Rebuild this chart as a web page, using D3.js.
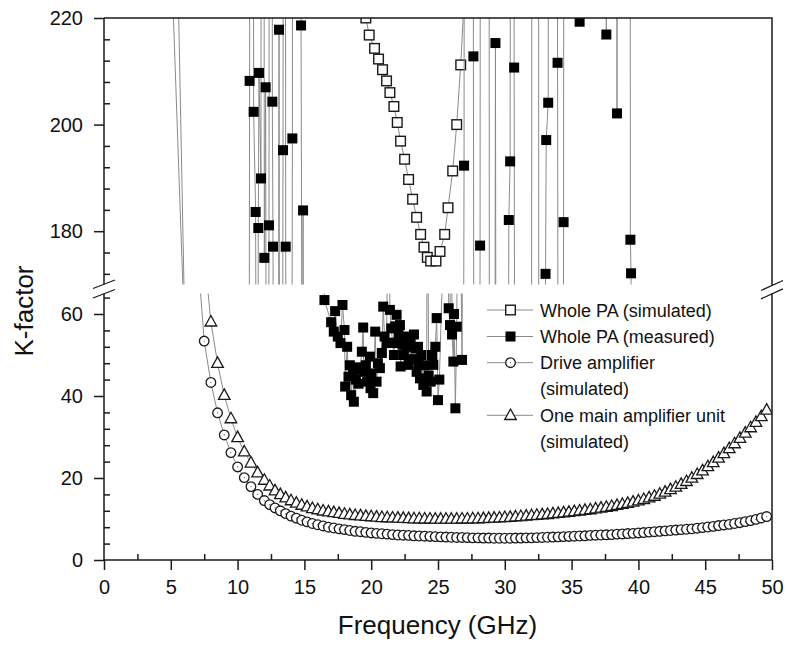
<!DOCTYPE html>
<html lang="en">
<head>
<meta charset="UTF-8">
<title>K-factor</title>
<script src="https://d3js.org/d3.v7.min.js"></script>
<style>
  body { margin: 0; background: #fff; }
  svg text { font-family: "Liberation Sans", Arial, sans-serif; fill: #111; }
</style>
</head>
<body>
<div id="chart"></div>
<script>
const width = 787, height = 645;

// ---- data ----
const freqSim = [7.5, 8.0, 8.5, 9.0, 9.5, 10.0, 10.5, 11.0, 11.5, 12.0,
  12.4, 12.8, 13.2, 13.6, 14.0, 14.4, 14.8, 15.2, 15.6, 16.0,
  16.4, 16.8, 17.2, 17.6, 18.0, 18.4, 18.8, 19.2, 19.6, 20.0,
  20.4, 20.8, 21.2, 21.6, 22.0, 22.4, 22.8, 23.2, 23.6, 24.0,
  24.4, 24.8, 25.2, 25.6, 26.0, 26.4, 26.8, 27.2, 27.6, 28.0,
  28.4, 28.8, 29.2, 29.6, 30.0, 30.4, 30.8, 31.2, 31.6, 32.0,
  32.4, 32.8, 33.2, 33.6, 34.0, 34.4, 34.8, 35.2, 35.6, 36.0,
  36.4, 36.8, 37.2, 37.6, 38.0, 38.4, 38.8, 39.2, 39.6, 40.0,
  40.4, 40.8, 41.2, 41.6, 42.0, 42.4, 42.8, 43.2, 43.6, 44.0,
  44.4, 44.8, 45.2, 45.6, 46.0, 46.4, 46.8, 47.2, 47.6, 48.0,
  48.4, 48.8, 49.2, 49.6];

const kDrive = [53.4, 43.3, 35.9, 30.5, 26.2, 22.7, 20.1, 17.9, 16.0, 14.5,
  13.5, 12.7, 12.0, 11.3, 10.7, 10.2, 9.7, 9.3, 8.9, 8.6,
  8.3, 8.0, 7.8, 7.6, 7.4, 7.2, 7.0, 6.9, 6.75, 6.6,
  6.5, 6.4, 6.3, 6.2, 6.1, 6.05, 6.0, 5.9, 5.85, 5.8,
  5.75, 5.7, 5.65, 5.6, 5.55, 5.5, 5.5, 5.45, 5.4, 5.4,
  5.35, 5.35, 5.3, 5.3, 5.3, 5.3, 5.35, 5.35, 5.4, 5.4,
  5.45, 5.5, 5.55, 5.6, 5.65, 5.7, 5.75, 5.8, 5.85, 5.9,
  6.0, 6.05, 6.1, 6.15, 6.2, 6.3, 6.35, 6.45, 6.5, 6.6,
  6.7, 6.8, 6.9, 7.0, 7.1, 7.2, 7.3, 7.4, 7.5, 7.6,
  7.75, 7.9, 8.05, 8.2, 8.4, 8.55, 8.7, 8.9, 9.1, 9.35,
  9.6, 9.9, 10.25, 10.6];

const kMain = [75, 58.1, 48.0, 40.2, 34.5, 29.9, 26.4, 23.7, 21.3, 19.5,
  18.1, 16.9, 16.0, 15.2, 14.5, 13.9, 13.4, 13.0, 12.6, 12.3,
  12.0, 11.8, 11.6, 11.4, 11.2, 11.05, 10.9, 10.8, 10.7, 10.6,
  10.5, 10.4, 10.35, 10.3, 10.25, 10.2, 10.15, 10.1, 10.1, 10.05,
  10.05, 10.0, 10.0, 10.0, 10.0, 10.0, 10.05, 10.05, 10.1, 10.1,
  10.15, 10.2, 10.25, 10.3, 10.4, 10.45, 10.55, 10.65, 10.75, 10.85,
  10.95, 11.05, 11.15, 11.3, 11.4, 11.55, 11.7, 11.85, 12.0, 12.15,
  12.3, 12.5, 12.7, 12.9, 13.1, 13.35, 13.6, 13.85, 14.15, 14.45,
  14.8, 15.2, 15.6, 16.1, 16.6, 17.2, 17.8, 18.5, 19.2, 20.0,
  20.9, 21.8, 22.8, 23.8, 24.9, 26.0, 27.2, 28.4, 29.7, 31.0,
  32.3, 33.6, 35.0, 36.6];

// steep low-frequency parts, mostly off scale
const freqDriveLead = [5.0, 6.0, 6.5, 7.0];
const kDriveLead = [234, 163, 110, 75];
const freqMainLead = [5.5, 6.0, 6.5, 7.0];
const kMainLead = [232, 168, 130, 100];

const freqWholeSim = [19.2, 19.6, 19.85, 20.25, 20.55, 20.85, 21.15, 21.4, 21.7, 21.95,
  22.2, 22.5, 22.8, 23.1, 23.4, 23.7, 23.95, 24.2, 24.45, 24.85,
  25.15, 25.5, 25.75, 26.1, 26.4, 26.7, 27.05, 27.4];
const kWholeSim = [232, 220, 216.8, 214.3, 212.3, 210.3, 208.2, 206.0, 203.4, 200.4,
  196.9, 193.5, 189.7, 186.0, 182.6, 179.4, 177.0, 175.1, 174.4, 174.4,
  176.2, 179.4, 184.4, 191.3, 200.0, 211.2, 228, 280];

const freqMeas = [10.5, 10.85, 10.9, 10.95, 11.15, 11.2, 11.35, 11.4, 11.5, 11.55,
  11.6, 11.75, 11.8, 11.95, 12.0, 12.1, 12.15, 12.3, 12.35, 12.4,
  12.55, 12.6, 12.65, 12.7, 13.05, 13.1, 13.15, 13.35, 13.4, 13.45,
  13.55, 13.6, 13.65, 14.05, 14.1, 14.15, 14.7, 14.75, 14.85, 14.9,
  14.95, 16.3,
  16.5, 17.0, 17.2, 17.3, 17.5, 17.7, 17.85, 18.0, 18.05, 18.2,
  18.3, 18.4, 18.5, 18.65, 18.7, 18.85, 18.95, 19.05, 19.15, 19.3,
  19.4, 19.45, 19.6, 19.7, 19.9, 19.95, 20.0, 20.15, 20.3, 20.4,
  20.5, 20.65, 20.8, 20.9, 21.0, 21.15, 21.3, 21.4, 21.5, 21.6,
  21.7, 21.8, 21.9, 21.95, 22.05, 22.15, 22.2, 22.35, 22.45, 22.55,
  22.65, 22.8, 22.95, 23.1, 23.2, 23.3, 23.4, 23.5, 23.55, 23.65,
  23.75, 23.9, 24.0, 24.15, 24.2, 24.3, 24.45, 24.55, 24.65, 24.8,
  24.9, 25.0, 25.1, 25.7, 25.8, 25.9, 26.0, 26.05, 26.15, 26.2,
  26.3, 26.4, 26.55, 26.8,
  26.95, 27.0, 27.6, 27.65, 27.7, 28.1,
  28.15, 28.2, 28.8, 28.85, 29.25, 29.3, 29.35, 30.25, 30.3, 30.4,
  30.45, 30.65, 30.7, 30.75, 32.0, 32.05, 32.5, 32.55, 33.0, 33.05,
  33.1, 33.25, 33.3, 33.9, 33.95, 34.0, 34.35, 34.4, 34.45, 35.6,
  35.65, 37.55, 37.6, 37.65, 38.35, 38.4, 38.45, 39.35, 39.4, 39.45,
  39.5, 40.0];
const kMeas = [120, 120, 208.2, 400, 400, 202.4, 183.6, 120, 120, 180.6,
  209.7, 189.9, 400, 400, 175.0, 207.0, 120, 120, 181.1, 400,
  400, 204.3, 177.1, 120, 120, 217.8, 120, 120, 195.2, 400,
  400, 177.1, 120, 120, 197.4, 400, 400, 218.6, 120, 183.9,
  120, 110,
  63.4, 58.0, 55.7, 60.7, 54.5, 52.9, 62.2, 56.1, 42.3, 52.0,
  44.7, 47.5, 40.2, 45.9, 38.6, 44.0, 47.0, 43.0, 46.5, 50.8,
  56.7, 45.9, 47.5, 43.5, 49.6, 41.9, 45.5, 40.7, 55.7, 43.5,
  48.0, 46.8, 50.5, 61.8, 54.5, 52.9, 100, 61.0, 56.5, 53.0,
  50.0, 57.0, 59.8, 52.9, 55.0, 57.3, 47.2, 52.5, 50.0, 54.5,
  52.0, 47.6, 53.5, 49.0, 55.0, 51.6, 45.9, 52.0, 48.0, 44.3,
  50.0, 42.7, 47.5, 41.1, 110, 45.0, 43.5, 50.0, 47.6, 52.0,
  59.0, 39.0, 44.0, 110, 61.4, 57.3, 130, 55.0, 48.4, 60.0,
  37.0, 56.9, 120, 48.8,
  192.3, 400, 400, 212.8, 120, 120,
  177.3, 400, 400, 120, 120, 215.3, 120, 120, 182.1, 193.1,
  400, 400, 210.7, 120, 120, 400, 400, 120, 120, 172.0,
  197.1, 204.1, 400, 400, 211.6, 120, 120, 181.7, 400, 219.3,
  400, 400, 216.9, 400, 400, 202.1, 400, 400, 178.4, 172.1,
  120, 120];

const xMajor = [0, 5, 10, 15, 20, 25, 30, 35, 40, 45, 50];
const xMinor = [2.5, 7.5, 12.5, 17.5, 22.5, 27.5, 32.5, 37.5, 42.5, 47.5];
const yTopMajor = [180, 200, 220];
const yTopMinor = [172, 176, 184, 188, 192, 196, 204, 208, 212, 216];
const yBotMajor = [0, 20, 40, 60];
const yBotMinor = [4, 8, 12, 16, 24, 28, 32, 36, 44, 48, 52, 56, 64];

const legendLabels = ["Whole PA (simulated)", "Whole PA (measured)", "Drive amplifier", "(simulated)", "One main amplifier unit", "(simulated)"];
const legendSymbols = ["openSquare", "filledSquare", "circle", null, "triangle", null];

// ---- layout ----
const x = d3.scaleLinear().domain([0, 50]).range([104, 772]);
const yTop = d3.scaleLinear().domain([170, 220]).range([284.5, 18]);
const yBot = d3.scaleLinear().domain([0, 65]).range([560, 293.5]);
const panels = [
  { id: "clipTop", y: yTop },
  { id: "clipBot", y: yBot }
];

const svg = d3.select("#chart").append("svg")
  .attr("width", width)
  .attr("height", height);

const defs = svg.append("defs");
panels.forEach(p => {
  const r = p.y.range();
  defs.append("clipPath").attr("id", p.id)
    .append("rect")
    .attr("x", 104).attr("y", r[1])
    .attr("width", 668).attr("height", r[0] - r[1]);
});

const lineColor = "#8a8a8a";
const ink = "#1a1a1a";

function drawSymbol(g, kind, cx, cy) {
  if (kind === "openSquare") {
    g.append("rect").attr("x", cx - 4.8).attr("y", cy - 4.8).attr("width", 9.6).attr("height", 9.6)
      .attr("fill", "#fff").attr("stroke", ink).attr("stroke-width", 1.4);
  } else if (kind === "filledSquare") {
    g.append("rect").attr("x", cx - 5).attr("y", cy - 5).attr("width", 10).attr("height", 10)
      .attr("fill", "#000");
  } else if (kind === "circle") {
    g.append("circle").attr("cx", cx).attr("cy", cy).attr("r", 4.8)
      .attr("fill", "#fff").attr("stroke", ink).attr("stroke-width", 1.3);
    g.append("circle").attr("cx", cx).attr("cy", cy).attr("r", 0.6).attr("fill", "#555");
  } else if (kind === "triangle") {
    g.append("path")
      .attr("d", `M${cx},${cy - 6.3}L${cx + 5.8},${cy + 4.2}L${cx - 5.8},${cy + 4.2}Z`)
      .attr("fill", "#fff").attr("stroke", ink).attr("stroke-width", 1.3);
  }
}

const series = [
  { kind: "openSquare", f: freqWholeSim, k: kWholeSim },
  { kind: "filledSquare", f: freqMeas, k: kMeas },
  { kind: "circle", f: freqDriveLead.concat(freqSim), k: kDriveLead.concat(kDrive) },
  { kind: "triangle", f: freqMainLead.concat(freqSim), k: kMainLead.concat(kMain) }
];

panels.forEach(p => {
  const g = svg.append("g").attr("clip-path", `url(#${p.id})`);
  series.forEach(s => {
    const pts = s.f.map((f, i) => [f, s.k[i]]);
    const line = d3.line().x(d => x(d[0])).y(d => p.y(d[1]));
    g.append("path").attr("d", line(pts))
      .attr("fill", "none").attr("stroke", lineColor).attr("stroke-width", 1);
    const [lo, hi] = p.y.domain();
    const mg = g.append("g");
    pts.filter(d => d[1] >= lo - 3 && d[1] <= hi + 3)
      .forEach(d => drawSymbol(mg, s.kind, x(d[0]), p.y(d[1])));
  });
});

// ---- axes ----
function styleAxis(g) {
  g.select(".domain").remove();
  g.selectAll("line").attr("stroke", ink).attr("stroke-width", 1.5);
  g.selectAll("text").style("font-size", "20px").attr("fill", "#111")
    .style("font-family", '"Liberation Sans", Arial, sans-serif');
}

svg.append("g").attr("transform", "translate(0,560)")
  .call(d3.axisBottom(x).tickValues(xMajor).tickSize(10).tickPadding(10).tickFormat(d3.format("d")))
  .call(styleAxis);
svg.append("g").attr("transform", "translate(0,560)")
  .call(d3.axisBottom(x).tickValues(xMinor).tickSize(-6).tickFormat(""))
  .call(styleAxis);

[[yTop, yTopMajor, yTopMinor], [yBot, yBotMajor, yBotMinor]].forEach(([sc, maj, mnr]) => {
  svg.append("g").attr("transform", "translate(104,0)")
    .call(d3.axisLeft(sc).tickValues(maj).tickSize(10).tickPadding(11).tickFormat(d3.format("d")))
    .call(styleAxis);
  svg.append("g").attr("transform", "translate(104,0)")
    .call(d3.axisLeft(sc).tickValues(mnr).tickSize(-6).tickFormat(""))
    .call(styleAxis);
});

// frame and broken axis lines
const frame = svg.append("g").attr("stroke", ink).attr("stroke-width", 1.5).attr("fill", "none");
frame.append("path").attr("d", "M104,18H772V285.2");
frame.append("path").attr("d", "M772,293.6V560H104V293.7");
frame.append("path").attr("d", "M104,18V284.3");
// break marks
frame.append("path").attr("d", "M93,288.5L115,280M93,298L115,289.5").attr("stroke-width", 1.3);
frame.append("path").attr("d", "M761,290.5L783,280.5M761,298.8L783,288.8").attr("stroke-width", 1.3);

// axis titles
svg.append("text")
  .attr("x", 437.5).attr("y", 634)
  .attr("text-anchor", "middle")
  .style("font-size", "26px")
  .text("Frequency (GHz)");

svg.append("text")
  .attr("transform", "translate(33,311) rotate(-90)")
  .attr("text-anchor", "middle")
  .style("font-size", "26px")
  .text("K-factor");

// legend
const legend = svg.append("g");
const rowY = [310, 336.5, 362.7, 388.7, 415.3, 441.5];
legendLabels.forEach((lab, i) => {
  const sym = legendSymbols[i];
  if (sym) {
    legend.append("line").attr("x1", 487).attr("x2", 533)
      .attr("y1", rowY[i]).attr("y2", rowY[i])
      .attr("stroke", lineColor).attr("stroke-width", 1);
    drawSymbol(legend, sym, 510.5, rowY[i]);
  }
  legend.append("text")
    .attr("x", 540).attr("y", rowY[i] + 6.5)
    .style("font-size", "18px")
    .text(lab);
});
</script>
</body>
</html>
